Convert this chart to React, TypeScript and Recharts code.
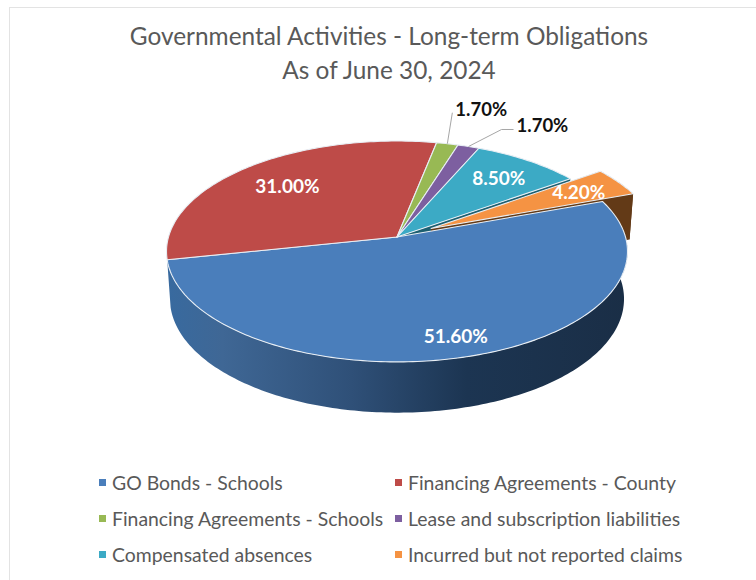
import React from 'react'
import { Pie, PieChart, Cell, Legend } from 'recharts'

const sliceNames = [
  'GO Bonds - Schools',
  'Financing Agreements - County',
  'Financing Agreements - Schools',
  'Lease and subscription liabilities',
  'Compensated absences',
  'Incurred but not reported claims',
]
const sliceValues = [51.6, 31.0, 1.7, 1.7, 8.5, 4.2]
const faceColors = ['#4a7ebb', '#be4b48', '#98b954', '#7d5fa0', '#3caac5', '#f59343']
const wallColors = ['url(#goBondsWall)', '#7a2f2d', '#5f7433', '#4c3a62', '#1d5f70', '#633a17']

const pieData = sliceNames.map((name, i) => ({ name, value: sliceValues[i] }))

const FONT = 'Lato, "Open Sans", sans-serif'
const CENTER_X = 397
const CENTER_Y = 237
const RADIUS = 228.5

// tilted-disc perspective: the far side of the pie is foreshortened
const SQUASH = 0.475
const PERSPECTIVE = 0.131
const WALL_DROP = 47
const WALL_SCALE_X = 0.985
const WALL_SCALE_Y = 1.03
const EXPLODED = 'Incurred but not reported claims'
const EXPLODE_DIST = 0.17

type Pt = [number, number]

const labelSpots: Record<string, { r?: number; elbow?: Pt[] }> = {
  'GO Bonds - Schools': { r: 0.84 },
  'Financing Agreements - County': { r: 0.72 },
  'Financing Agreements - Schools': { elbow: [[5, -31]] },
  'Lease and subscription liabilities': { elbow: [[33, -17], [45, -17]] },
  'Compensated absences': { r: 0.76 },
  'Incurred but not reported claims': { r: 0.78 },
}

function explodeFor(name: string, mid: number): Pt {
  if (name !== EXPLODED) return [0, 0]
  const t = (mid * Math.PI) / 180
  return [EXPLODE_DIST * Math.cos(t), EXPLODE_DIST * Math.sin(t)]
}

function project(cx: number, cy: number, R: number, deg: number, r: number, off: Pt): Pt {
  const t = (deg * Math.PI) / 180
  const u = r * Math.cos(t) + off[0]
  const v = r * Math.sin(t) + off[1]
  const w = 1 + PERSPECTIVE * v
  return [cx + (R * u) / w, cy - (R * SQUASH * v) / w]
}

function lower(p: Pt, cx: number, cy: number): Pt {
  return [cx + (p[0] - cx) * WALL_SCALE_X, cy + (p[1] - cy) * WALL_SCALE_Y + WALL_DROP]
}

function arcPoints(props: any, off: Pt): Pt[] {
  const { cx, cy, outerRadius, startAngle, endAngle } = props
  const steps = Math.max(2, Math.ceil(Math.abs(endAngle - startAngle)))
  const pts: Pt[] = []
  for (let i = 0; i <= steps; i++) {
    const deg = startAngle + ((endAngle - startAngle) * i) / steps
    pts.push(project(cx, cy, outerRadius, deg, 1, off))
  }
  return pts
}

const toPath = (pts: Pt[]) =>
  'M' + pts.map((p) => `${p[0].toFixed(2)},${p[1].toFixed(2)}`).join('L') + 'Z'

function FaceShape(props: any) {
  const { cx, cy, outerRadius, startAngle, endAngle, fill, name } = props
  const off = explodeFor(name, (startAngle + endAngle) / 2)
  const apex = project(cx, cy, outerRadius, 0, 0, off)
  return (
    <path
      d={toPath([apex, ...arcPoints(props, off)])}
      fill={fill}
      stroke="#e8eef4"
      strokeWidth={1.1}
      strokeLinejoin="round"
    />
  )
}

function WallShape(props: any) {
  const { cx, cy, outerRadius, startAngle, endAngle, fill, name } = props
  const mid = (startAngle + endAngle) / 2
  const off = explodeFor(name, mid)
  const apex = project(cx, cy, outerRadius, 0, 0, off)
  const arc = arcPoints(props, off)
  const drop = (p: Pt) => lower(p, cx, cy)
  const first = arc[0]
  const last = arc[arc.length - 1]
  const isExploded = name === EXPLODED
  // the slice next to the pulled-out one shows its cut face through the gap
  const faceOpening = sliceNames[sliceNames.indexOf(name) + 1] === EXPLODED
  const frontFacing = Math.sin((mid * Math.PI) / 180) < 0
  return (
    <g>
      {isExploded && <path d={toPath([apex, first, drop(first), drop(apex)])} fill={fill} />}
      {(isExploded || faceOpening) && (
        <path d={toPath([apex, last, drop(last), drop(apex)])} fill={fill} />
      )}
      {(isExploded || frontFacing) && (
        <path d={toPath([...arc, ...arc.map(drop).reverse()])} fill={fill} />
      )}
    </g>
  )
}

function SliceLabel(props: any) {
  const { cx, cy, outerRadius, midAngle, name, value } = props
  const spot = labelSpots[name]
  const text = `${Number(value).toFixed(2)}%`
  if (spot.elbow) {
    const start = project(cx, cy, outerRadius, midAngle, 1, [0, 0])
    const line = [start, ...spot.elbow.map((e): Pt => [start[0] + e[0], start[1] + e[1]])]
    const end = line[line.length - 1]
    return (
      <g>
        <polyline
          points={line.map((p) => p.join(',')).join(' ')}
          fill="none"
          stroke="#a6a6a6"
          strokeWidth={1}
        />
        <text
          x={end[0] + 3}
          y={end[1] - 4}
          dominantBaseline="central"
          fontFamily={FONT}
          fontWeight={700}
          fontSize={18.5}
          fill="#111"
        >
          {text}
        </text>
      </g>
    )
  }
  const off = explodeFor(name, midAngle)
  const p = project(cx, cy, outerRadius, midAngle, spot.r ?? 0.75, off)
  return (
    <text
      x={p[0]}
      y={p[1]}
      textAnchor="middle"
      dominantBaseline="central"
      fontFamily={FONT}
      fontWeight={700}
      fontSize={19}
      fill="#fff"
    >
      {text}
    </text>
  )
}

function LegendRows() {
  return (
    <div
      style={{
        display: 'grid',
        gridTemplateColumns: '296px 300px',
        gridAutoRows: '36px',
        fontFamily: FONT,
        fontSize: 19.4,
        color: '#595959',
      }}
    >
      {sliceNames.map((name, i) => (
        <div key={name} style={{ display: 'flex', alignItems: 'center', whiteSpace: 'nowrap' }}>
          <span
            style={{
              width: 7,
              height: 7,
              marginRight: 6,
              background: faceColors[i],
              flex: 'none',
            }}
          />
          {name}
        </div>
      ))}
    </div>
  )
}

export default function App() {
  return (
    <div
      style={{
        position: 'absolute',
        left: 0,
        top: 0,
        width: 756,
        height: 580,
        overflow: 'hidden',
        background: '#fff',
      }}
    >
      <div
        style={{
          position: 'absolute',
          left: 9,
          top: 7,
          width: 800,
          height: 640,
          border: '1px solid #e3e3e3',
        }}
      />
      <div
        style={{
          position: 'absolute',
          left: 0,
          top: 19,
          width: 778,
          textAlign: 'center',
          fontFamily: FONT,
          fontSize: 24.4,
          lineHeight: '34px',
          color: '#595959',
        }}
      >
        Governmental Activities - Long-term Obligations
        <br />
        As of June 30, 2024
      </div>
      <div style={{ position: 'absolute', left: 0, top: 0 }}>
        <PieChart width={756} height={580} margin={{ top: 0, right: 0, bottom: 0, left: 0 }}>
          <defs>
            <linearGradient id="goBondsWall" x1="0" y1="0" x2="1" y2="0">
              <stop offset="0%" stopColor="#386a9f" />
              <stop offset="12%" stopColor="#3f6795" />
              <stop offset="40%" stopColor="#2f5078" />
              <stop offset="65%" stopColor="#1c3552" />
              <stop offset="100%" stopColor="#1a2e46" />
            </linearGradient>
          </defs>
          <Pie
            data={pieData}
            dataKey="value"
            nameKey="name"
            cx={CENTER_X}
            cy={CENTER_Y}
            outerRadius={RADIUS}
            startAngle={20}
            endAngle={-340}
            legendType="none"
            isAnimationActive={false}
            shape={WallShape}
          >
            {wallColors.map((c, i) => (
              <Cell key={i} fill={c} />
            ))}
          </Pie>
          <Pie
            data={pieData}
            dataKey="value"
            nameKey="name"
            cx={CENTER_X}
            cy={CENTER_Y}
            outerRadius={RADIUS}
            startAngle={20}
            endAngle={-340}
            legendType="square"
            isAnimationActive={false}
            shape={FaceShape}
            label={SliceLabel}
            labelLine={false}
          >
            {faceColors.map((c, i) => (
              <Cell key={i} fill={c} />
            ))}
          </Pie>
          <Legend
            content={LegendRows}
            wrapperStyle={{ position: 'absolute', left: 99, top: 464, width: 600, height: 110 }}
          />
        </PieChart>
      </div>
    </div>
  )
}
